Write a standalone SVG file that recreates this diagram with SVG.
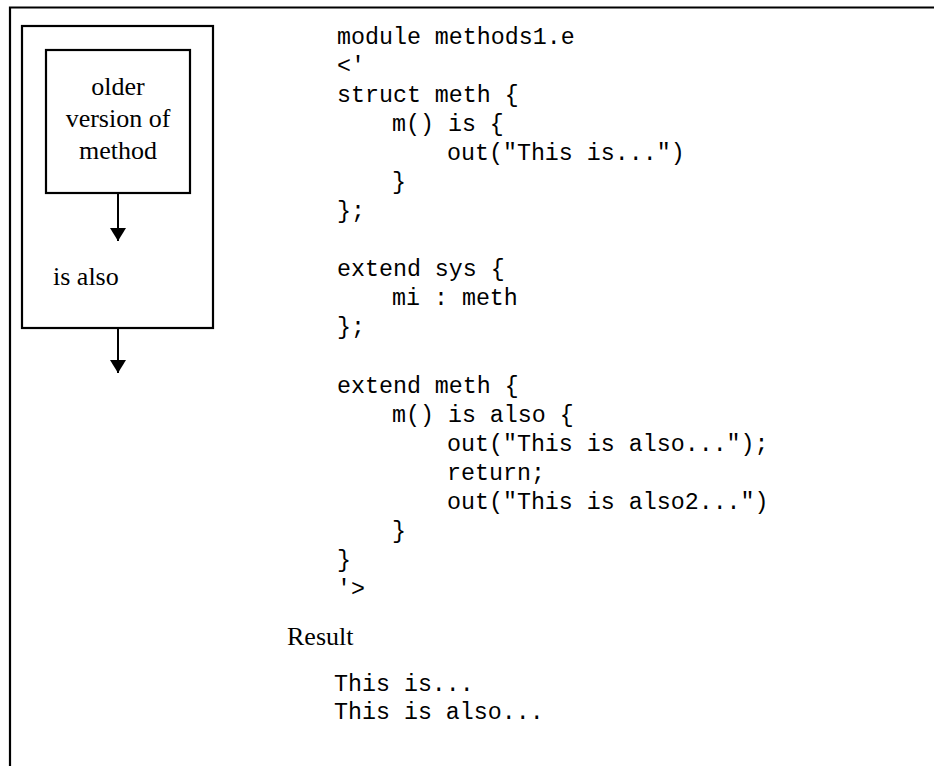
<svg xmlns="http://www.w3.org/2000/svg" width="934" height="766" viewBox="0 0 934 766">
<style>
.frame{fill:none;stroke:#000;stroke-width:2.2}
.serif{font-family:"Liberation Serif","Times New Roman",serif;font-size:26px;fill:#000}
.mono{font-family:"Liberation Mono","Courier New",monospace;font-size:23.3px;fill:#000}
.conn{stroke:#000;stroke-width:2;fill:none}
</style>
<defs>
<marker id="ah" markerUnits="userSpaceOnUse" markerWidth="18" markerHeight="16" refX="13" refY="8" orient="auto">
<path d="M0,0 L13,8 L0,16 Z" fill="#000"/>
</marker>
</defs>
<rect width="934" height="766" fill="#fff"/>
<g id="outer-frame">
<path class="frame" d="M10,780 L10,7.5 L940,7.5"/>
</g>
<g id="is-also-box">
<rect class="frame" x="22" y="26" width="191" height="302"/>
<text class="serif" x="53" y="285">is also</text>
</g>
<g id="older-version">
<rect class="frame" x="46" y="50" width="144" height="143"/>
<text class="serif" text-anchor="middle" x="118" y="95">older</text>
<text class="serif" text-anchor="middle" x="118" y="127">version of</text>
<text class="serif" text-anchor="middle" x="118" y="159">method</text>
</g>
<g id="connectors">
<line class="conn" x1="118" y1="193" x2="118" y2="241" marker-end="url(#ah)"/>
<line class="conn" x1="118" y1="328" x2="118" y2="373" marker-end="url(#ah)"/>
</g>
<g id="code">
<text class="mono" x="337" y="44">module methods1.e</text>
<text class="mono" x="337" y="73">&lt;'</text>
<text class="mono" x="337" y="102">struct meth {</text>
<text class="mono" x="392" y="131">m() is {</text>
<text class="mono" x="447" y="160">out("This is...")</text>
<text class="mono" x="392" y="189">}</text>
<text class="mono" x="337" y="218">};</text>
<text class="mono" x="337" y="276">extend sys {</text>
<text class="mono" x="392" y="305">mi : meth</text>
<text class="mono" x="337" y="334">};</text>
<text class="mono" x="337" y="393">extend meth {</text>
<text class="mono" x="392" y="422">m() is also {</text>
<text class="mono" x="447" y="451">out("This is also...");</text>
<text class="mono" x="447" y="480">return;</text>
<text class="mono" x="447" y="509">out("This is also2...")</text>
<text class="mono" x="392" y="538">}</text>
<text class="mono" x="337" y="567">}</text>
<text class="mono" x="337" y="596">'&gt;</text>
</g>
<g id="result">
<text class="serif" x="287" y="645">Result</text>
<text class="mono" x="334" y="691">This is...</text>
<text class="mono" x="334" y="719">This is also...</text>
</g>
</svg>
